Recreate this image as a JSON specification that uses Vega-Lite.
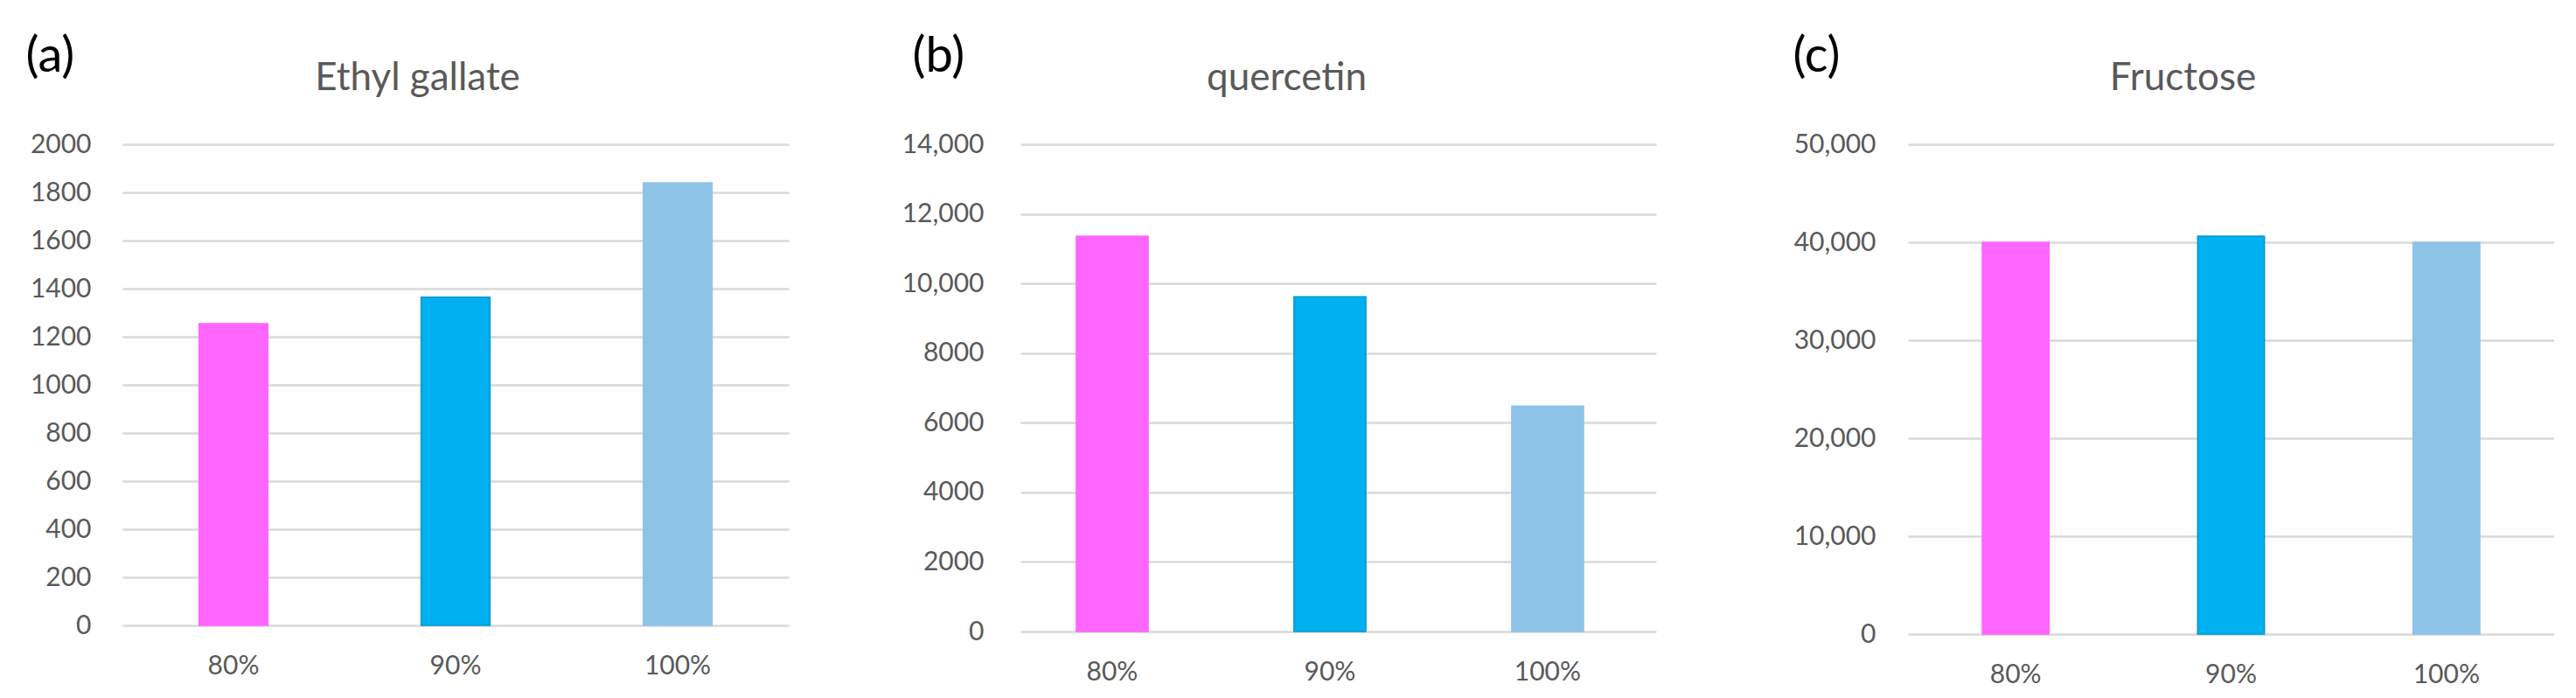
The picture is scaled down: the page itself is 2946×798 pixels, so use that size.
{
  "$schema": "https://vega.github.io/schema/vega-lite/v6.json",
  "background": "white",
  "padding": {"left": 29, "top": 36, "right": 0, "bottom": 0},
  "data": {
    "values": [
      {"panel": "a", "conc": "80%", "value": 1255},
      {"panel": "a", "conc": "90%", "value": 1365},
      {"panel": "a", "conc": "100%", "value": 1840},
      {"panel": "b", "conc": "80%", "value": 11360},
      {"panel": "b", "conc": "90%", "value": 9620},
      {"panel": "b", "conc": "100%", "value": 6480},
      {"panel": "c", "conc": "80%", "value": 40000},
      {"panel": "c", "conc": "90%", "value": 40620},
      {"panel": "c", "conc": "100%", "value": 40000}
    ]
  },
  "spacing": 126,
  "hconcat": [
    {
      "width": 762,
      "height": 550,
      "transform": [{"filter": "datum.panel == 'a'"}],
      "mark": {"type": "bar", "strokeWidth": 1.5},
      "encoding": {
        "x": {
          "field": "conc", "type": "nominal", "sort": ["80%", "90%", "100%"],
          "scale": {"paddingInner": 0.69, "paddingOuter": 0.345},
          "axis": {"title": "Ethyl gallate", "titleX": 337, "titleY": -613}
        },
        "y": {
          "field": "value", "type": "quantitative",
          "scale": {"domain": [0, 2000]},
          "axis": {
            "values": [0, 200, 400, 600, 800, 1000, 1200, 1400, 1600, 1800, 2000],
            "format": "d",
            "title": "(a)", "titleX": -111, "titleY": -84
          }
        },
        "color": {"field": "conc", "type": "nominal", "legend": null,
          "scale": {"domain": ["80%", "90%", "100%"], "range": ["#FF66FF", "#00B0F0", "#8EC3E8"]}},
        "stroke": {"field": "conc", "type": "nominal", "legend": null,
          "scale": {"domain": ["80%", "90%", "100%"], "range": ["#FF66FF", "#0098CC", "#8EC3E8"]}}
      }
    },
    {
      "width": 727,
      "height": 557,
      "transform": [{"filter": "datum.panel == 'b'"}],
      "mark": {"type": "bar", "strokeWidth": 1.5},
      "encoding": {
        "x": {
          "field": "conc", "type": "nominal", "sort": ["80%", "90%", "100%"],
          "scale": {"paddingInner": 0.67, "paddingOuter": 0.295, "align": 0.435},
          "axis": {"title": "quercetin", "titleX": 304, "titleY": -620}
        },
        "y": {
          "field": "value", "type": "quantitative",
          "scale": {"domain": [0, 14000]},
          "axis": {
            "values": [0, 2000, 4000, 6000, 8000, 10000, 12000, 14000],
            "labelExpr": "datum.value >= 10000 ? format(datum.value, ',') : format(datum.value, 'd')",
            "labelPadding": 42, "minExtent": 139,
            "title": "(b)", "titleX": -124, "titleY": -84
          }
        },
        "color": {"field": "conc", "type": "nominal", "legend": null,
          "scale": {"domain": ["80%", "90%", "100%"], "range": ["#FF66FF", "#00B0F0", "#8EC3E8"]}},
        "stroke": {"field": "conc", "type": "nominal", "legend": null,
          "scale": {"domain": ["80%", "90%", "100%"], "range": ["#FF66FF", "#0098CC", "#8EC3E8"]}}
      }
    },
    {
      "width": 739,
      "height": 560,
      "transform": [{"filter": "datum.panel == 'c'"}],
      "mark": {"type": "bar", "strokeWidth": 1.5},
      "encoding": {
        "x": {
          "field": "conc", "type": "nominal", "sort": ["80%", "90%", "100%"],
          "scale": {"paddingInner": 0.69, "paddingOuter": 0.345},
          "axis": {"title": "Fructose", "titleX": 314, "titleY": -623}
        },
        "y": {
          "field": "value", "type": "quantitative",
          "scale": {"domain": [0, 50000]},
          "axis": {
            "values": [0, 10000, 20000, 30000, 40000, 50000],
            "labelExpr": "format(datum.value, ',')",
            "labelPadding": 37, "minExtent": 162,
            "title": "(c)", "titleX": -132, "titleY": -84
          }
        },
        "color": {"field": "conc", "type": "nominal", "legend": null,
          "scale": {"domain": ["80%", "90%", "100%"], "range": ["#FF66FF", "#00B0F0", "#8EC3E8"]}},
        "stroke": {"field": "conc", "type": "nominal", "legend": null,
          "scale": {"domain": ["80%", "90%", "100%"], "range": ["#FF66FF", "#0098CC", "#8EC3E8"]}}
      }
    }
  ],
  "resolve": {"scale": {"color": "independent", "stroke": "independent"}},
  "config": {
    "font": "Lato",
    "view": {"stroke": null},
    "axisX": {
      "domain": false, "ticks": false, "grid": false,
      "labelAngle": 0, "labelFontSize": 30, "labelColor": "#595959", "labelPadding": 31,
      "titleFontSize": 44, "titleFontWeight": "normal", "titleColor": "#595959",
      "titleAlign": "center", "titleBaseline": "alphabetic"
    },
    "axisY": {
      "domain": false, "ticks": false, "grid": true,
      "gridColor": "#D9D9D9", "gridWidth": 2.5,
      "labelFontSize": 30, "labelColor": "#595959", "labelPadding": 36,
      "titleAngle": 0, "titleAlign": "left", "titleBaseline": "alphabetic",
      "titleFontSize": 56, "titleFontWeight": "normal", "titleColor": "#000000"
    }
  }
}
